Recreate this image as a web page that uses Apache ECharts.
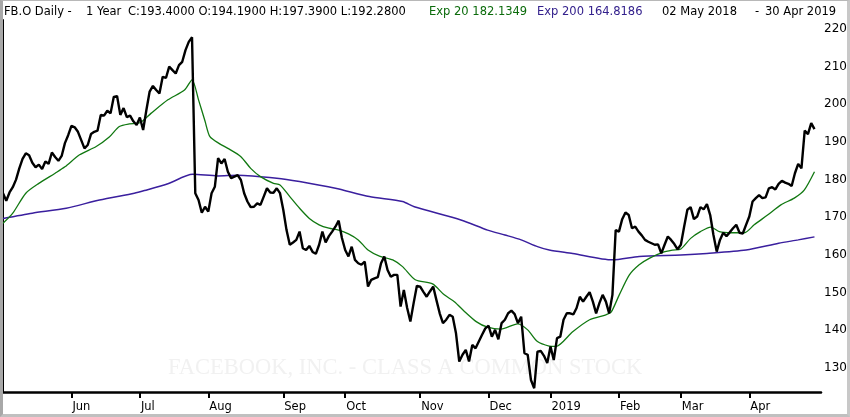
<!DOCTYPE html>
<html>
<head>
<meta charset="utf-8">
<script src="https://cdn.jsdelivr.net/npm/echarts@6/dist/echarts.min.js"></script>
<style>
  body { margin: 0; background: #fff; }
  #wrap { position: relative; width: 850px; height: 417px; }
  #chart { width: 850px; height: 417px; }
  #frame {
    position: absolute; left: 0; top: 0; width: 850px; height: 417px; box-sizing: border-box;
    border-top: 1px solid #b8b8b8; border-left: 3px solid #a8a8a8;
    border-right: 3px solid #c8c8c8; border-bottom: 3px solid #c0c0c0;
    pointer-events: none;
  }
</style>
</head>
<body>
<div id="wrap"><div id="chart"></div><div id="frame"></div></div>
<script>
// daily closes, one array per month (trading days 02 May 2018 - 30 Apr 2019)
var closeMay = [176.4,174.4,176.6,178.0,180.0,183.0,185.5,187.0,186.5,184.5,183.3,184.0,182.8,184.8,184.2,187.2,186.0,185.0,186.3,189.7,191.8];
var closeJun = [194.3,193.9,192.7,190.5,188.3,189.2,192.1,192.7,193.0,197.2,197.0,198.3,197.6,202.0,202.2,197.2,199.0,196.6,197.0,195.5,194.5];
var closeJul = [196.5,193.2,198.5,203.4,204.9,203.8,202.9,207.3,207.0,210.0,209.1,208.2,210.4,211.3,214.4,216.6,217.8,176.4,174.6,171.2,172.8];
var closeAug = [171.5,176.4,178.1,185.7,184.3,185.5,182.1,180.4,180.8,181.2,179.9,176.4,174.2,172.7,172.8,173.7,173.3,175.5,177.7,176.6,176.5,177.7,176.4];
var closeSep = [172.0,166.6,162.7,163.3,164.0,166.2,161.8,161.3,162.4,160.8,160.3,162.7,166.2,163.3,165.0,166.2,167.5,169.1,164.5];
var closeOct = [161.3,159.6,162.2,158.7,157.8,157.4,158.2,151.6,153.4,153.8,154.1,157.8,159.6,156.0,154.2,154.7,154.7,146.3,150.7,146.0,142.3,147.2,151.8];
var closeNov = [151.6,150.2,148.9,150.3,151.6,148.0,144.5,141.9,142.8,144.1,143.6,139.2,131.7,133.5,134.8,131.7,136.1,135.2,137.0,138.8,140.5];
var closeDec = [141.2,138.3,140.1,137.6,141.9,142.8,144.5,145.2,144.3,141.9,143.6,133.9,133.5,126.8,124.6,134.3,134.5,133.2,131.3];
var closeJan = [135.7,132.1,137.9,138.3,142.8,144.5,144.5,144.2,145.9,148.9,147.6,148.9,150.1,147.6,144.5,147.2,149.4,147.6,144.5,149.4,166.6];
var closeFeb = [166.2,169.5,171.3,170.6,167.1,167.5,166.2,165.2,164.0,163.5,163.1,162.7,162.8,160.4,162.7,164.9,164.0,162.9,161.5];
var closeMar = [162.7,167.5,172.0,172.7,169.5,170.2,172.7,172.1,173.5,170.6,165.3,160.9,164.0,165.9,165.0,166.0,167.1,168.0,165.9,165.7,168.0];
var closeApr = [170.2,174.2,175.1,175.9,175.1,175.3,177.7,178.0,177.4,178.9,179.7,179.2,178.9,178.3,181.7,184.2,183.0,193.0,192.1,195.0,193.4];

// exponential averages, [trading day, value]
var exp20 = [[0,168.4],[3,171.1],[7,176.4],[11,179],[16,181.7],[19,183.4],[23.5,186.6],[28.6,188.8],[32.7,191.4],[35.7,194.1],[38.8,194.8],[42,195.1],[45.4,197.6],[50.6,201.2],[55.7,203.8],[58,206.5],[60,201.2],[62,195.5],[63.5,191.4],[66.5,189.5],[69,188.3],[73,186.1],[76,183],[79,180.8],[83,179],[85,178.6],[88,175.5],[91,172.4],[94,169.7],[97,168],[100,167.1],[103,166.6],[106,165.6],[109,164],[112,161.3],[115.5,159.7],[119.6,158.7],[122.6,156.9],[126.5,153.4],[131.8,152.3],[135.4,149.4],[138.5,147.6],[141.6,145],[145.2,142.3],[148.7,140.8],[152.8,140.3],[157.9,141.7],[161,140.1],[164,137],[167.6,135.8],[169.7,135.7],[174.8,139.6],[180,142.8],[185,144.1],[186.6,144.8],[189.1,149.4],[192.2,154.7],[195.2,157.4],[198.3,159.1],[202.4,160.7],[205.5,161.3],[208,161.6],[211,164.4],[214,166.2],[217.2,167.4],[219.8,166.2],[223.4,165.9],[227.5,165.9],[230.5,168],[234.6,170.6],[238.7,173.3],[242.8,175.1],[245.9,177.3],[249,182.1]];
var exp200 = [[0,169.7],[9,171.1],[19.4,172.4],[29.6,174.6],[40.3,176.4],[43.4,177.1],[50.6,178.9],[58.2,181.4],[65.9,181],[72,181.2],[84,180.4],[91,179.5],[102,177.7],[112.4,175.5],[122.6,174.2],[126.2,172.8],[140.5,169.3],[148.7,166.6],[154,165.3],[159,164],[164,162.2],[167.6,161.3],[174.8,160.4],[187,158.7],[195.2,159.6],[208,160],[216,160.4],[228,161.3],[238,163.1],[244,164],[249,164.8]];

var monthTicks = [21,42,63,86,105,128,149,168,189,208,229];
var monthNames = ['Jun','Jul','Aug','Sep','Oct','Nov','Dec','2019','Feb','Mar','Apr'];
var priceTicks = [130,140,150,160,170,180,190,200,210,220];

var closes = [].concat(closeMay, closeJun, closeJul, closeAug, closeSep, closeOct,
                       closeNov, closeDec, closeJan, closeFeb, closeMar, closeApr);

var font = 'DejaVu Sans';
var chart = echarts.init(document.getElementById('chart'));
chart.setOption({
    animation: false,
    grid: { left: 3, right: 29, top: 20, bottom: 25 },
    graphic: [
        { type: 'text', left: 4, top: 6, style: { text: 'FB.O Daily -', fill: '#000', font: '11.5px ' + font } },
        { type: 'text', left: 86, top: 6, style: { text: '1 Year', fill: '#000', font: '11.5px ' + font } },
        { type: 'text', left: 128, top: 6, style: { text: 'C:193.4000 O:194.1900 H:197.3900 L:192.2800', fill: '#000', font: '11.5px ' + font } },
        { type: 'text', left: 429, top: 6, style: { text: 'Exp 20 182.1349', fill: '#0b6b0b', font: '11.5px ' + font } },
        { type: 'text', left: 537, top: 6, style: { text: 'Exp 200 164.8186', fill: '#33208c', font: '11.5px ' + font } },
        { type: 'text', left: 662, top: 6, style: { text: '02 May 2018', fill: '#000', font: '11.5px ' + font } },
        { type: 'text', left: 755, top: 6, style: { text: '-', fill: '#000', font: '11.5px ' + font } },
        { type: 'text', left: 765, top: 6, style: { text: '30 Apr 2019', fill: '#000', font: '11.5px ' + font } },
        // faint watermark
        { type: 'text', left: 168, top: 357, z: -10,
          style: { text: 'FACEBOOK, INC. - CLASS A COMMON STOCK', fill: '#f1f1f1', font: '22.5px "Liberation Serif"' } }
    ],
    xAxis: {
        type: 'value', min: 0, max: 251,
        splitLine: { show: false },
        axisLine: { lineStyle: { color: '#000', width: 2.5 } },
        axisTick: { show: true, customValues: monthTicks, length: 6, lineStyle: { color: '#000', width: 2 } },
        axisLabel: {
            customValues: monthTicks, align: 'left', margin: 9, padding: [0, 0, 0, 1],
            color: '#000', fontFamily: font, fontSize: 11.5,
            formatter: function (v) { return monthNames[monthTicks.indexOf(v)]; }
        }
    },
    yAxis: {
        type: 'value', position: 'right', min: 123.6, max: 222.4,
        splitLine: { show: false },
        axisLine: { show: true, lineStyle: { color: '#000', width: 2 } },
        axisTick: { show: false },
        axisLabel: { customValues: priceTicks, margin: 3, color: '#000', fontFamily: font, fontSize: 12 }
    },
    series: [
        { name: 'Exp 200', type: 'line', data: exp200, showSymbol: false, smooth: 0.25,
          lineStyle: { color: '#3a1f9e', width: 1.5 } },
        { name: 'Exp 20', type: 'line', data: exp20, showSymbol: false, smooth: 0.25,
          lineStyle: { color: '#117811', width: 1.3 } },
        { name: 'FB.O', type: 'line', showSymbol: false, z: 5,
          data: closes.map(function (v, i) { return [i, v]; }),
          lineStyle: { color: '#000', width: 2.4 } }
    ]
});
</script>
</body>
</html>
